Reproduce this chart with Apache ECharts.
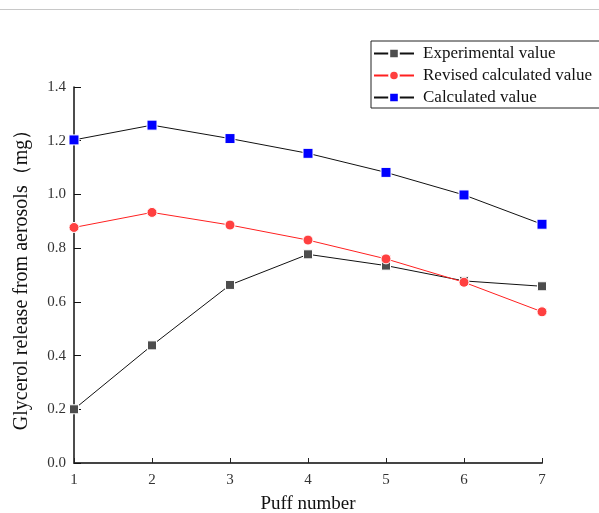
<!DOCTYPE html>
<html>
<head>
<meta charset="utf-8">
<script src="https://cdn.jsdelivr.net/npm/echarts@6/dist/echarts.min.js"></script>
<style>
  html, body { margin: 0; padding: 0; background: #fff; }
  #main { width: 599px; height: 513px; }
</style>
</head>
<body>
<div id="main"></div>
<script>
var puffs = [1, 2, 3, 4, 5, 6, 7];
var experimental = [0.200, 0.438, 0.663, 0.777, 0.735, 0.678, 0.658];
var revised = [0.877, 0.933, 0.886, 0.830, 0.760, 0.673, 0.563];
var calculated = [1.203, 1.258, 1.208, 1.153, 1.082, 0.998, 0.889];
var yTicks = [0, 0.2, 0.4, 0.6, 0.8, 1.0, 1.2, 1.4];

function pairs(vals) {
    return puffs.map(function (p, i) { return [p, vals[i]]; });
}

var serif = '"Liberation Serif", "Times New Roman", serif';
var myChart = echarts.init(document.getElementById('main'));

var option = {
    animation: false,
    textStyle: {fontFamily: serif},
    graphic: [
        {type: 'line', shape: {x1: 0, y1: 9.5, x2: 599, y2: 9.5},
         style: {stroke: '#c8c8c8', lineWidth: 1}}
    ],
    grid: {left: 74, right: 57, top: 87, bottom: 50, outerBoundsMode: 'none', containLabel: false},
    legend: {
        left: 371, top: 41,
        orient: 'vertical',
        padding: [4, 30, 2, 2],
        borderColor: '#222', borderWidth: 1,
        itemWidth: 40, itemHeight: 12, itemGap: 5,
        textStyle: {fontFamily: serif, fontSize: 17, lineHeight: 17, color: '#111', padding: [0, 0, 0, 4]},
        data: ['Experimental value', 'Revised calculated value', 'Calculated value']
    },
    xAxis: {
        type: 'value', min: 1, max: 7, interval: 1,
        name: 'Puff number', nameLocation: 'middle', nameGap: 32,
        nameTextStyle: {fontFamily: serif, fontSize: 19, color: '#111'},
        axisLine: {lineStyle: {color: '#444', width: 2}},
        axisTick: {inside: true, length: 5, lineStyle: {color: '#222', width: 1}},
        axisLabel: {fontFamily: serif, fontSize: 15, color: '#333', margin: 10},
        splitLine: {show: false}
    },
    yAxis: {
        type: 'value', min: 0, max: 1.4, interval: 0.2,
        name: 'Glycerol release from aerosols（mg）', nameLocation: 'middle', nameGap: 42,
        nameTextStyle: {fontFamily: serif, fontSize: 20, color: '#111'},
        axisLine: {show: true, lineStyle: {color: '#111', width: 1.5}},
        axisTick: {show: true, inside: true, length: 7, lineStyle: {color: '#111', width: 1}},
        axisLabel: {
            fontFamily: serif, fontSize: 15, color: '#333', margin: 8,
            formatter: function (v) { return v.toFixed(1); }
        },
        splitLine: {show: false}
    },
    series: [
        {
            name: 'Experimental value', type: 'line', data: pairs(experimental),
            symbol: 'rect', symbolSize: 9,
            lineStyle: {color: '#111', width: 1},
            itemStyle: {color: '#4d4d4d', borderColor: '#fff', borderWidth: 1}
        },
        {
            name: 'Revised calculated value', type: 'line', data: pairs(revised),
            symbol: 'circle', symbolSize: 10,
            lineStyle: {color: '#ff2020', width: 1},
            itemStyle: {color: '#ff4040', borderColor: '#fff', borderWidth: 1}
        },
        {
            name: 'Calculated value', type: 'line', data: pairs(calculated),
            symbol: 'rect', symbolSize: 10,
            lineStyle: {color: '#111', width: 1},
            itemStyle: {color: '#0000ff', borderColor: '#fff', borderWidth: 1}
        }
    ]
};
myChart.setOption(option);
</script>
</body>
</html>
